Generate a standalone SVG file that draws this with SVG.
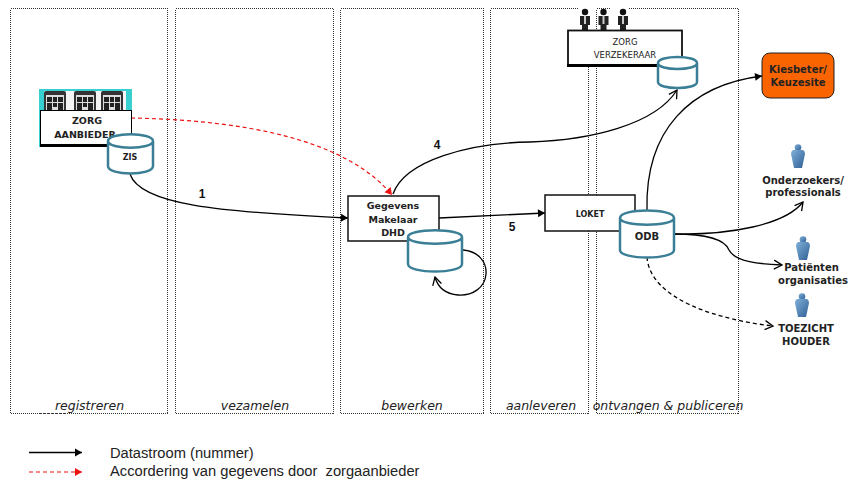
<svg xmlns="http://www.w3.org/2000/svg" width="854" height="482" viewBox="0 0 854 482">
<style>
.lane{fill:none;stroke:#333;stroke-width:1;stroke-dasharray:1 1;shape-rendering:crispEdges}
.box{fill:#fff;stroke:#111;stroke-width:1.5}
.cyl{fill:#fff;stroke:#3a7f96;stroke-width:2.5}
.t{font-family:"DejaVu Sans",sans-serif;font-weight:bold;font-size:9.5px;fill:#222;text-anchor:middle}
.b{font-size:10px}
.v{font-size:8.500px;font-weight:normal}
.i{font-family:"DejaVu Sans",sans-serif;font-style:italic;font-size:12.5px;fill:#222;text-anchor:middle}
.n{font-family:"Liberation Sans",sans-serif;font-weight:bold;font-size:12px;fill:#111;text-anchor:middle}
.l{font-family:"Liberation Sans",sans-serif;font-size:14.700px;fill:#222}
.c{fill:none;stroke:#000;stroke-width:1.3}
.red{fill:none;stroke:#e11;stroke-width:1.2;stroke-dasharray:4 3}
</style>
<defs>
<linearGradient id="pg" x1="0" y1="0" x2="1" y2="1"><stop offset="0" stop-color="#7fb0d8"/><stop offset="1" stop-color="#2f5f95"/></linearGradient>
<marker id="a" markerUnits="userSpaceOnUse" markerWidth="10" markerHeight="10" refX="8" refY="5" orient="auto"><path d="M1 1L8 5L1 9z" fill="#000"/></marker>
<marker id="o" markerUnits="userSpaceOnUse" markerWidth="12" markerHeight="12" refX="10" refY="6" orient="auto"><path d="M2 1.500L10 6L2 10.500" fill="none" stroke="#000" stroke-width="1.300"/></marker>
<marker id="r" markerUnits="userSpaceOnUse" markerWidth="10" markerHeight="10" refX="8" refY="5" orient="auto"><path d="M1 1L8 5L1 9z" fill="#e11"/></marker>
<g id="person"><circle cx="0" cy="-8.500" r="3.300" fill="url(#pg)"/><path d="M-5 -6Q-7 -5 -7 -2L-5.500 5L-4 12H4L5.500 5L7 -2Q7 -5 5 -6z" fill="url(#pg)"/></g>
<g id="suit"><circle cx="0" cy="-8" r="3.200" fill="#111"/><path d="M-5 -4H5V5H3V13H-3V5H-5z" fill="#222"/><path d="M-1 -4H1V4H-1z" fill="#ccc"/></g>
<g id="bld"><rect x="-11" y="-11" width="22" height="22" fill="#333" rx="2"/><rect x="-9" y="-7" width="18" height="16" fill="#ddd"/><path d="M-8 -5H-3V0H-8zM-2 -5H2V0H-2zM3 -5H8V0H3zM-8 1H-3V9H-8zM-2 1H2V5H-2zM3 1H8V9H3z" fill="#222"/></g>
</defs>

<g id="lanes">
<rect class="lane" x="10.500" y="8.500" width="157" height="405"/>
<rect class="lane" x="175.500" y="8.500" width="158" height="405"/>
<rect class="lane" x="340.500" y="8.500" width="143" height="405"/>
<rect class="lane" x="490.500" y="8.500" width="98" height="405"/>
<rect class="lane" x="596.500" y="8.500" width="142" height="405"/>
<text class="i" x="89.500" y="410">registreren</text>
<text class="i" x="255" y="410">vezamelen</text>
<text class="i" x="412" y="410">bewerken</text>
<text class="i" x="541" y="410">aanleveren</text>
<text class="i" x="668" y="410">ontvangen &amp; publiceren</text>
</g>

<g id="connectors">
<path class="c" d="M130 174C140 205 220 212 348 218" marker-end="url(#a)"/>
<path class="red" d="M131 118C240 120 345 138 392 195" marker-end="url(#r)"/>
<path class="c" d="M393 194C405 160 470 143 530 142C590 140 655 125 677 90" marker-end="url(#o)"/>
<path class="c" d="M439 218L545 213" marker-end="url(#a)"/>
<path class="c" d="M463 250C478 251 487 262 486 274C485 288 472 296 458 295C446 294 438 288 435 277" marker-end="url(#o)"/>
<path class="c" d="M647 210C645 130 690 85 762 76" marker-end="url(#a)"/>
<path class="c" d="M674 234C730 235 785 225 803 202" marker-end="url(#o)"/>
<path class="c" d="M674 234C710 234 725 240 729 250C735 262 760 264 782 265" marker-end="url(#o)"/>
<path class="c" stroke-dasharray="4 3" d="M647 257C650 300 720 320 773 326" marker-end="url(#o)"/>
<text class="n" x="202" y="198">1</text>
<text class="n" x="437" y="149">4</text>
<text class="n" x="512" y="231">5</text>
</g>

<g id="zorgaanbieder">
<rect x="39" y="89" width="93" height="58" fill="#37cfd0"/>
<rect x="44" y="91" width="82" height="20" fill="#f4f4f4"/>
<use href="#bld" x="55" y="102"/><use href="#bld" x="85" y="102"/><use href="#bld" x="112" y="102"/>
<rect x="40.500" y="110.500" width="91" height="35" fill="#fff" stroke="#000" stroke-width="1"/>
<rect x="40" y="144" width="80" height="3" fill="#000"/>
<text class="t" x="87" y="124">ZORG</text>
<text class="t" x="85" y="138">AANBIEDER</text>
</g>
<g id="zis">
<path class="cyl" d="M108 141V166C108 176 153 176 153 166V141C153 132 108 132 108 141C108 150 153 150 153 141"/>
<text class="t" x="130" y="160" style="font-size:8px">ZIS</text>
</g>

<g id="zorgverzekeraar">
<rect x="578" y="4" width="17" height="26" fill="#fff"/>
<rect x="610" y="4" width="18" height="26" fill="#fff"/>
<use href="#suit" x="585" y="20"/><use href="#suit" x="603.500" y="20"/><use href="#suit" x="623" y="20"/>
<rect x="568" y="30.500" width="114" height="35" fill="#fff" stroke="#111" stroke-width="1.800"/>
<rect x="567" y="64" width="90" height="3" fill="#000"/>
<text class="t v" x="625" y="45">ZORG</text>
<text class="t v" x="625" y="58">VERZEKERAAR</text>
</g>
<g id="db-verzekeraar">
<path class="cyl" d="M658 63V82C658 90 697 90 697 82V63C697 55 658 55 658 63C658 71 697 71 697 63"/>
</g>

<g id="kiesbeter">
<rect x="762" y="53" width="72" height="45" rx="8" fill="#f96400" stroke="#222" stroke-width="1"/>
<text class="t b" x="798" y="73">Kiesbeter/</text>
<text class="t b" x="798" y="86">Keuzesite</text>
</g>

<g id="gegevensmakelaar">
<rect class="box" x="348" y="196" width="91" height="45"/>
<text class="t" x="393" y="209">Gegevens</text>
<text class="t" x="393" y="223">Makelaar</text>
<text class="t" x="393" y="236">DHD</text>
</g>
<g id="db-makelaar">
<path class="cyl" d="M408 237V264C408 274 462 274 462 264V237C462 228 408 228 408 237C408 246 462 246 462 237"/>
</g>

<g id="loket">
<rect class="box" x="545" y="195" width="90" height="36"/>
<text class="t" x="590" y="217" style="font-size:8px">LOKET</text>
</g>
<g id="odb">
<path class="cyl" d="M620 218V250C620 260 674 260 674 250V218C674 208 620 208 620 218C620 227 674 227 674 218"/>
<text class="t b" x="647" y="240">ODB</text>
</g>

<g id="onderzoekers">
<use href="#person" x="798" y="156"/>
<text class="t b" x="803" y="184">Onderzoekers/</text>
<text class="t b" x="803" y="196">professionals</text>
</g>
<g id="patienten">
<use href="#person" x="803" y="248"/>
<text class="t b" x="811.500" y="271">Patiënten</text>
<text class="t b" x="813" y="284">organisaties</text>
</g>
<g id="toezicht">
<use href="#person" x="802" y="305"/>
<text class="t b" x="806" y="332">TOEZICHT</text>
<text class="t b" x="806" y="345">HOUDER</text>
</g>

<g id="legend">
<path class="c" d="M29 452.500H82" marker-end="url(#a)"/>
<path class="red" d="M29 472H82" marker-end="url(#r)"/>
<text class="l" x="110" y="458">Datastroom (nummer)</text>
<text class="l" x="110" y="476">Accordering van gegevens door&#160; zorgaanbieder</text>
</g>
</svg>
